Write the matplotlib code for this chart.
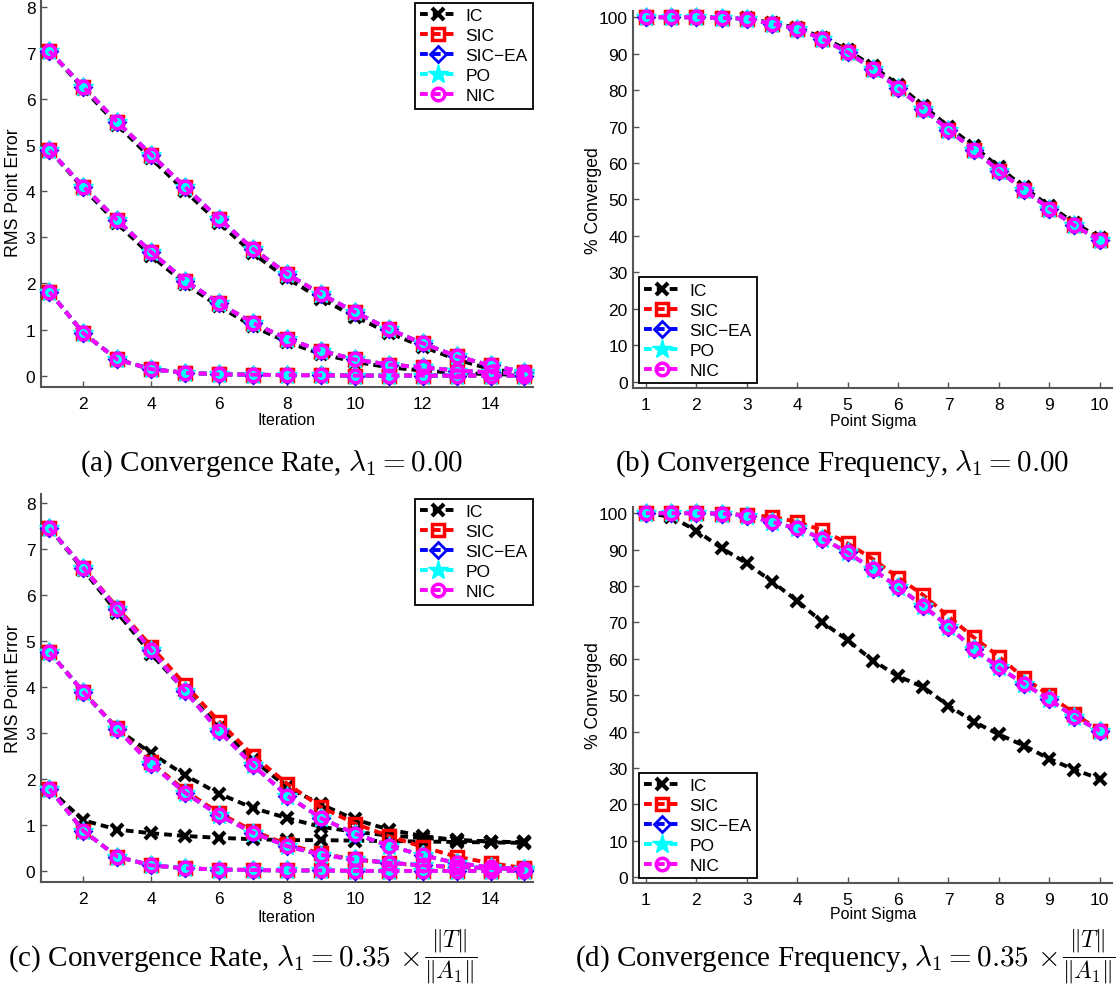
import numpy as np
import matplotlib.pyplot as plt

plt.rcParams['font.family'] = ['Liberation Sans', 'DejaVu Sans']
plt.rcParams['mathtext.fontset'] = 'cm'

# x values
iters = [1, 2, 3, 4, 5, 6, 7, 8, 9, 10, 11, 12, 13, 14, 15]
sigmas = [1, 1.5, 2, 2.5, 3, 3.5, 4, 4.5, 5, 5.5, 6, 6.5, 7, 7.5, 8, 8.5, 9, 9.5, 10]

# (a) convergence rate, lambda = 0 -- three starting errors per method
rate_a_ic = [
    [7.04, 6.22, 5.44, 4.71, 4.00, 3.31, 2.65, 2.11, 1.67, 1.28, 0.93, 0.63, 0.35, 0.14, 0.05],
    [4.89, 4.06, 3.30, 2.60, 1.99, 1.50, 1.07, 0.73, 0.47, 0.30, 0.18, 0.11, 0.06, 0.03, 0.02],
    [1.82, 0.92, 0.35, 0.14, 0.06, 0.03, 0.02, 0.01, 0.01, 0.00, 0.00, 0.00, 0.00, 0.00, 0.00],
]
rate_a_other = [
    [7.04, 6.26, 5.50, 4.79, 4.09, 3.40, 2.75, 2.21, 1.77, 1.38, 1.01, 0.70, 0.42, 0.22, 0.08],
    [4.89, 4.10, 3.37, 2.68, 2.06, 1.57, 1.14, 0.80, 0.54, 0.35, 0.24, 0.18, 0.11, 0.07, 0.05],
    [1.82, 0.92, 0.35, 0.14, 0.06, 0.03, 0.02, 0.01, 0.01, 0.00, 0.00, 0.00, 0.00, 0.00, 0.00],
]

# (b) convergence frequency, lambda = 0
freq_b_ic = [100, 100, 100, 99.9, 99.7, 98.4, 97.1, 94.4, 91.0, 86.5, 81.5, 75.7, 70.0, 64.6, 58.9, 53.3, 48.2, 43.6, 39.4]
freq_b_other = [100, 100, 100, 99.8, 99.6, 98.2, 96.8, 94.0, 90.4, 85.8, 80.6, 74.9, 69.1, 63.6, 57.9, 52.6, 47.5, 42.9, 38.8]

# (c) convergence rate, lambda = 0.35 |T|/|A1|
rate_c_ic = [
    [7.46, 6.55, 5.62, 4.72, 3.92, 3.12, 2.42, 1.82, 1.45, 1.12, 0.90, 0.76, 0.67, 0.64, 0.62],
    [4.76, 3.89, 3.08, 2.56, 2.08, 1.68, 1.37, 1.15, 0.96, 0.85, 0.77, 0.72, 0.67, 0.64, 0.62],
    [1.78, 1.10, 0.90, 0.82, 0.76, 0.72, 0.69, 0.67, 0.67, 0.66, 0.65, 0.64, 0.63, 0.62, 0.61],
]
rate_c_sic = [
    [7.46, 6.60, 5.73, 4.88, 4.05, 3.25, 2.51, 1.90, 1.39, 1.03, 0.76, 0.52, 0.31, 0.17, 0.06],
    [4.76, 3.90, 3.10, 2.36, 1.74, 1.26, 0.87, 0.58, 0.38, 0.25, 0.17, 0.12, 0.08, 0.05, 0.03],
    [1.79, 0.87, 0.31, 0.12, 0.06, 0.03, 0.02, 0.01, 0.01, 0.00, 0.00, 0.00, 0.00, 0.00, 0.00],
]
rate_c_other = [
    [7.46, 6.59, 5.70, 4.80, 3.91, 3.04, 2.30, 1.64, 1.15, 0.81, 0.55, 0.34, 0.17, 0.08, 0.04],
    [4.76, 3.89, 3.08, 2.32, 1.70, 1.21, 0.83, 0.54, 0.35, 0.25, 0.18, 0.12, 0.09, 0.06, 0.04],
    [1.79, 0.87, 0.31, 0.12, 0.06, 0.03, 0.02, 0.01, 0.01, 0.00, 0.00, 0.00, 0.00, 0.00, 0.00],
]

# (d) convergence frequency, lambda = 0.35 |T|/|A1|
freq_d_ic = [100, 99.0, 95.2, 90.4, 86.2, 81.2, 75.9, 70.0, 65.1, 59.5, 55.2, 52.2, 47.1, 42.7, 39.2, 36.1, 32.5, 29.5, 27.0]
freq_d_sic = [100, 100, 100, 99.9, 99.5, 99.0, 97.6, 95.3, 91.7, 87.4, 82.3, 77.5, 71.6, 65.9, 60.6, 54.7, 50.0, 44.9, 40.2]
freq_d_other = [100, 100, 100, 99.9, 99.3, 97.6, 95.8, 93.0, 89.2, 84.6, 79.6, 74.6, 68.8, 62.7, 57.6, 53.1, 48.8, 44.0, 40.2]

labels = ['IC', 'SIC', 'SIC\u2212EA', 'PO', 'NIC']

styles = [
    dict(color='k', marker='x', ms=8, mew=3, mfc='k'),
    dict(color='#ff0000', marker='s', ms=9, mew=2.5, mfc='none'),
    dict(color='#0000ff', marker='D', ms=8, mew=2, mfc='none'),
    dict(color='#00ffff', marker='*', ms=15, mew=1, mfc='#00ffff'),
    dict(color='#ff00ff', marker='o', ms=9, mew=2.5, mfc='none'),
]

W, H = 1119, 987
fig = plt.figure(figsize=(W / 100, H / 100), dpi=100)


def style_axes(ax):
    for s in ['top', 'right']:
        ax.spines[s].set_visible(False)
    for s in ['left', 'bottom']:
        ax.spines[s].set_color('#555555')
        ax.spines[s].set_linewidth(1.5)
    ax.tick_params(direction='in', length=4, width=1, color='#555555',
                   labelsize=12.5, pad=4)
    ax.tick_params(axis='x', pad=6.5)


def draw(ax, x, series):
    handles = []
    for i, groups in enumerate(series):
        st = styles[i]
        for j, y in enumerate(groups):
            h, = ax.plot(x, y, ls=(0, (2, 1.3)), lw=2.8, color=st['color'],
                         marker=st['marker'], ms=st['ms'], mew=st['mew'],
                         mfc=st['mfc'], mec=st['color'], zorder=3 + i,
                         clip_on=False)
            if j == 0:
                handles.append(h)
    return handles


def legend(ax, handles, loc, anchor):
    lg = ax.legend(handles, labels, loc=loc, bbox_to_anchor=anchor,
                   borderaxespad=0, fancybox=False, fontsize=12.5,
                   handlelength=2.0, labelspacing=0.28, handletextpad=0.6,
                   borderpad=0.3, framealpha=1)
    lg.get_frame().set_edgecolor('k')
    lg.get_frame().set_linewidth(1.3)
    lg.set_zorder(20)


def rate_axes(rect, series, anchor, xl_y):
    ax = fig.add_axes(rect)
    style_axes(ax)
    h = draw(ax, iters, series)
    ax.set_xlim(0.75, 15.25)
    ax.set_ylim(-0.24, 8.2)
    ax.set_xticks([2, 4, 6, 8, 10, 12, 14])
    ax.set_yticks(range(0, 9))
    ax.set_ylabel('RMS Point Error', fontsize=12.7)
    ax.set_xlabel('Iteration', fontsize=11.5)
    ax.yaxis.set_label_coords(-0.038, 0.5)
    ax.xaxis.set_label_coords(0.5, xl_y)
    legend(ax, h, 'upper right', anchor)
    return ax


def freq_axes(rect, series, xl_y):
    ax = fig.add_axes(rect)
    style_axes(ax)
    h = draw(ax, sigmas, series)
    ax.set_xlim(0.75, 10.25)
    ax.set_ylim(-1.7, 101.8)
    ax.set_xticks(range(1, 11))
    ax.set_yticks(range(0, 101, 10))
    ax.set_ylabel('% Converged', fontsize=12.7)
    ax.set_xlabel('Point Sigma', fontsize=11.5)
    ax.yaxis.set_label_coords(-0.066, 0.5)
    ax.xaxis.set_label_coords(0.5, xl_y)
    legend(ax, h, 'lower left', (0.012, 0.013))
    return ax


rate_axes([0.0366, 0.6072, 0.4397, 0.3943],
          [rate_a_ic, rate_a_other, rate_a_other, rate_a_other, rate_a_other],
          (1.0, 0.986), -0.066)

freq_axes([0.566, 0.6059, 0.428, 0.3823],
          [[freq_b_ic], [freq_b_other], [freq_b_other], [freq_b_other], [freq_b_other]],
          -0.066)

rate_axes([0.0366, 0.1054, 0.4397, 0.3931],
          [rate_c_ic, rate_c_sic, rate_c_other, rate_c_other, rate_c_other],
          (1.0, 0.987), -0.07)

freq_axes([0.566, 0.1041, 0.428, 0.3816],
          [[freq_d_ic], [freq_d_sic], [freq_d_other], [freq_d_other], [freq_d_other]],
          -0.06)

# captions
cap = dict(fontsize=21, family='Liberation Serif', va='baseline')
fig.text(0.243, 1 - 471 / H, r'(a) Convergence Rate, $\lambda_1 = 0.00$', ha='center', **cap)
fig.text(0.753, 1 - 471 / H, r'(b) Convergence Frequency, $\lambda_1 = 0.00$', ha='center', **cap)

head = r'$\lambda_1 = 0.35\,\times$'
frac = r'$\dfrac{\|T\|}{\|A_1\|}$'
t_c = fig.text(8 / W, 1 - 966 / H, '(c) Convergence Rate, ' + head, ha='left', **cap)
t_d = fig.text(575 / W, 1 - 966 / H, '(d) Convergence Frequency, ' + head, ha='left', **cap)
fig.canvas.draw()
r = fig.canvas.get_renderer()
for t in (t_c, t_d):
    bb = t.get_window_extent(r)
    fig.text((bb.x1 + 4) / W, 1 - 957 / H, frac, fontsize=17, ha='left', va='center')

fig.savefig('out.png', dpi=100)
